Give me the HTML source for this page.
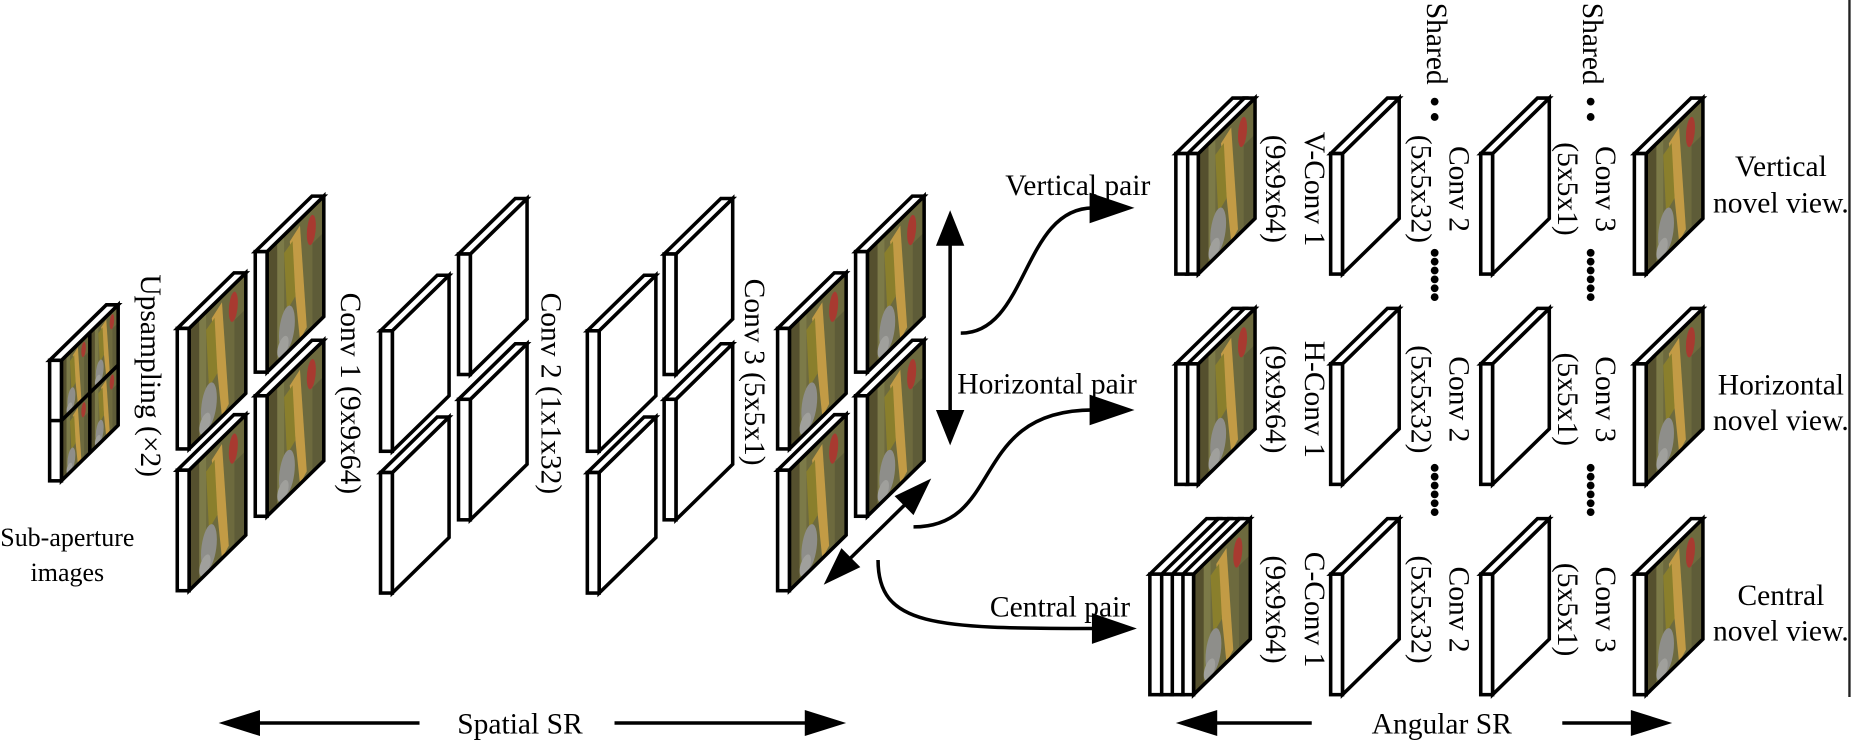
<!DOCTYPE html>
<html><head><meta charset="utf-8"><style>
html,body{margin:0;padding:0;background:#fff;}
svg{display:block;}
text{font-family:"Liberation Serif",serif;font-size:25px;fill:#000;}
</style></head><body>
<svg width="1853" height="749" viewBox="0 0 1568 634" preserveAspectRatio="none" xmlns="http://www.w3.org/2000/svg">
<defs>
  <g id="pic">
    <rect x="0" y="0" width="100" height="100" fill="#6d6a3e"/>
    <rect x="0" y="0" width="18" height="100" fill="#55502e"/>
    <rect x="18" y="0" width="12" height="100" fill="#7c7a48"/>
    <polygon points="40,10 58,5 70,95 58,100" fill="#c29b45"/>
    <polygon points="30,15 45,12 50,60 35,65" fill="#8a7f2c"/>
    <ellipse cx="35" cy="80" rx="14" ry="18" fill="#8e8e8a"/>
    <ellipse cx="28" cy="92" rx="10" ry="8" fill="#a0a09c"/>
    <ellipse cx="78" cy="18" rx="8" ry="12" fill="#a83a30"/>
    <rect x="80" y="30" width="20" height="70" fill="#5e5c38"/>
  </g>
  <g id="edge">
    <polygon points="0,0 48,-47 58,-47 10,0" fill="#fff" stroke="#000" stroke-width="3"/>
    <rect x="0" y="0" width="10" height="102" fill="#fff" stroke="#000" stroke-width="3"/>
  </g>
  <g id="ws">
    <polygon points="10,0 58,-47 58,55 10,102" fill="#fff" stroke="#000" stroke-width="3"/>
    <use href="#edge"/>
  </g>
  <g id="is">
    <g transform="matrix(0.48,-0.47,0,1.02,10,0)"><use href="#pic"/></g>
    <polygon points="10,0 58,-47 58,55 10,102" fill="none" stroke="#000" stroke-width="3"/>
    <use href="#edge"/>
  </g>
  <g id="sub">
    <g transform="matrix(0.24,-0.235,0,0.51,10,0)"><use href="#pic"/></g>
    <g transform="matrix(0.24,-0.235,0,0.51,34,-23.5)"><use href="#pic"/></g>
    <g transform="matrix(0.24,-0.235,0,0.51,10,51)"><use href="#pic"/></g>
    <g transform="matrix(0.24,-0.235,0,0.51,34,27.5)"><use href="#pic"/></g>
    <polygon points="10,0 58,-47 58,55 10,102" fill="none" stroke="#000" stroke-width="3"/>
    <line x1="34" y1="-23.5" x2="34" y2="78.5" stroke="#000" stroke-width="3"/>
    <line x1="10" y1="51" x2="58" y2="4" stroke="#000" stroke-width="3"/>
    <use href="#edge"/>
    <line x1="0" y1="51" x2="10" y2="51" stroke="#000" stroke-width="3"/>
  </g>
</defs>

<use href="#sub" x="42" y="305"/>
<text x="57" y="462" text-anchor="middle" style="font-size:22px">Sub-aperture</text>
<text x="57" y="492" text-anchor="middle" style="font-size:22px">images</text>
<text transform="translate(127,318) rotate(90)" text-anchor="middle" dominant-baseline="central">Upsampling (×2)</text>

<use href="#is" x="216" y="213"/>
<use href="#is" x="150" y="278"/>
<use href="#is" x="216" y="335"/>
<use href="#is" x="150" y="398"/>
<text transform="translate(296,333) rotate(90)" text-anchor="middle" dominant-baseline="central">Conv 1 (9x9x64)</text>

<use href="#ws" x="388" y="215"/>
<use href="#ws" x="322" y="280"/>
<use href="#ws" x="388" y="338"/>
<use href="#ws" x="322" y="400"/>
<text transform="translate(466,333) rotate(90)" text-anchor="middle" dominant-baseline="central">Conv 2 (1x1x32)</text>

<use href="#ws" x="562" y="215"/>
<use href="#ws" x="497" y="280"/>
<use href="#ws" x="562" y="338"/>
<use href="#ws" x="497" y="400"/>
<text transform="translate(638,315) rotate(90)" text-anchor="middle" dominant-baseline="central">Conv 3 (5x5x1)</text>

<use href="#is" x="724" y="213"/>
<use href="#is" x="658" y="278"/>
<use href="#is" x="724" y="335"/>
<use href="#is" x="658" y="398"/>

<g stroke="#000" stroke-width="3" fill="none">
  <line x1="804" y1="200" x2="804" y2="355"/>
  <line x1="716" y1="476" x2="770" y2="423"/>
  <path d="M813,282 C870,282 865,176 925,176"/>
  <path d="M773,446 C850,446 820,347 925,347"/>
  <path d="M743,474 C743,530 790,532 925,532"/>
  <line x1="205" y1="612" x2="355" y2="612"/>
  <line x1="520" y1="612" x2="690" y2="612"/>
  <line x1="1020" y1="612" x2="1110" y2="612"/>
  <line x1="1322" y1="612" x2="1390" y2="612"/>
</g>
<g fill="#000">
  <polygon points="804,178 792,208 816,208"/>
  <polygon points="804,377 792,347 816,347"/>
  <polygon points="697,495 728,480 712,464"/>
  <polygon points="788,405 757,420 773,436"/>
  <polygon points="960,176 922,163 922,189"/>
  <polygon points="960,347 922,334 922,360"/>
  <polygon points="962,532 924,519 924,545"/>
  <polygon points="185,612 220,601 220,623"/>
  <polygon points="716,612 681,601 681,623"/>
  <polygon points="995,612 1030,601 1030,623"/>
  <polygon points="1415,612 1380,601 1380,623"/>
</g>
<text x="912" y="165" text-anchor="middle">Vertical pair</text>
<text x="886" y="333" text-anchor="middle">Horizontal pair</text>
<text x="897" y="522" text-anchor="middle">Central pair</text>
<text x="440" y="621" text-anchor="middle">Spatial SR</text>
<text x="1220" y="621" text-anchor="middle">Angular SR</text>

<use href="#is" x="1004" y="130"/>
<use href="#edge" x="995" y="130"/>
<use href="#ws" x="1126" y="130"/>
<use href="#ws" x="1253" y="130"/>
<use href="#is" x="1383" y="130"/>

<use href="#is" x="1004" y="308"/>
<use href="#edge" x="995" y="308"/>
<use href="#ws" x="1126" y="308"/>
<use href="#ws" x="1253" y="308"/>
<use href="#is" x="1383" y="308"/>

<use href="#is" x="1000" y="486"/>
<use href="#edge" x="991" y="486"/>
<use href="#edge" x="982" y="486"/>
<use href="#edge" x="973" y="486"/>
<use href="#ws" x="1126" y="486"/>
<use href="#ws" x="1253" y="486"/>
<use href="#is" x="1383" y="486"/>

<g>
<text transform="translate(1079,160) rotate(90)" text-anchor="middle" dominant-baseline="central">(9x9x64)</text>
<text transform="translate(1112,160) rotate(90)" text-anchor="middle" dominant-baseline="central">V-Conv 1</text>
<text transform="translate(1202,160) rotate(90)" text-anchor="middle" dominant-baseline="central">(5x5x32)</text>
<text transform="translate(1234,160) rotate(90)" text-anchor="middle" dominant-baseline="central">Conv 2</text>
<text transform="translate(1326,160) rotate(90)" text-anchor="middle" dominant-baseline="central">(5x5x1)</text>
<text transform="translate(1358,160) rotate(90)" text-anchor="middle" dominant-baseline="central">Conv 3</text>

<text transform="translate(1079,338) rotate(90)" text-anchor="middle" dominant-baseline="central">(9x9x64)</text>
<text transform="translate(1112,338) rotate(90)" text-anchor="middle" dominant-baseline="central">H-Conv 1</text>
<text transform="translate(1202,338) rotate(90)" text-anchor="middle" dominant-baseline="central">(5x5x32)</text>
<text transform="translate(1234,338) rotate(90)" text-anchor="middle" dominant-baseline="central">Conv 2</text>
<text transform="translate(1326,338) rotate(90)" text-anchor="middle" dominant-baseline="central">(5x5x1)</text>
<text transform="translate(1358,338) rotate(90)" text-anchor="middle" dominant-baseline="central">Conv 3</text>

<text transform="translate(1079,516) rotate(90)" text-anchor="middle" dominant-baseline="central">(9x9x64)</text>
<text transform="translate(1112,516) rotate(90)" text-anchor="middle" dominant-baseline="central">C-Conv 1</text>
<text transform="translate(1202,516) rotate(90)" text-anchor="middle" dominant-baseline="central">(5x5x32)</text>
<text transform="translate(1234,516) rotate(90)" text-anchor="middle" dominant-baseline="central">Conv 2</text>
<text transform="translate(1326,516) rotate(90)" text-anchor="middle" dominant-baseline="central">(5x5x1)</text>
<text transform="translate(1358,516) rotate(90)" text-anchor="middle" dominant-baseline="central">Conv 3</text>

<text transform="translate(1215,37) rotate(90)" text-anchor="middle" dominant-baseline="central">Shared</text>
<text transform="translate(1347,37) rotate(90)" text-anchor="middle" dominant-baseline="central">Shared</text>
</g>
<g fill="#000">
  <circle cx="1214" cy="86" r="3.3"/><circle cx="1214" cy="99" r="3.3"/>
  <circle cx="1346" cy="86" r="3.3"/><circle cx="1346" cy="99" r="3.3"/>
  <circle cx="1214" cy="214" r="3.3"/><circle cx="1214" cy="221.5" r="3.3"/><circle cx="1214" cy="229" r="3.3"/><circle cx="1214" cy="236.5" r="3.3"/><circle cx="1214" cy="244" r="3.3"/><circle cx="1214" cy="251.5" r="3.3"/>
  <circle cx="1346" cy="214" r="3.3"/><circle cx="1346" cy="221.5" r="3.3"/><circle cx="1346" cy="229" r="3.3"/><circle cx="1346" cy="236.5" r="3.3"/><circle cx="1346" cy="244" r="3.3"/><circle cx="1346" cy="251.5" r="3.3"/>
  <circle cx="1214" cy="396" r="3.3"/><circle cx="1214" cy="403.5" r="3.3"/><circle cx="1214" cy="411" r="3.3"/><circle cx="1214" cy="418.5" r="3.3"/><circle cx="1214" cy="426" r="3.3"/><circle cx="1214" cy="433.5" r="3.3"/>
  <circle cx="1346" cy="396" r="3.3"/><circle cx="1346" cy="403.5" r="3.3"/><circle cx="1346" cy="411" r="3.3"/><circle cx="1346" cy="418.5" r="3.3"/><circle cx="1346" cy="426" r="3.3"/><circle cx="1346" cy="433.5" r="3.3"/>
</g>

<text x="1507" y="149" text-anchor="middle">Vertical</text>
<text x="1507" y="180" text-anchor="middle">novel view.</text>
<text x="1507" y="334" text-anchor="middle">Horizontal</text>
<text x="1507" y="364" text-anchor="middle">novel view.</text>
<text x="1507" y="512" text-anchor="middle">Central</text>
<text x="1507" y="542" text-anchor="middle">novel view.</text>

<line x1="1565" y1="0" x2="1565" y2="590" stroke="#222" stroke-width="2"/>
</svg>
</body></html>
